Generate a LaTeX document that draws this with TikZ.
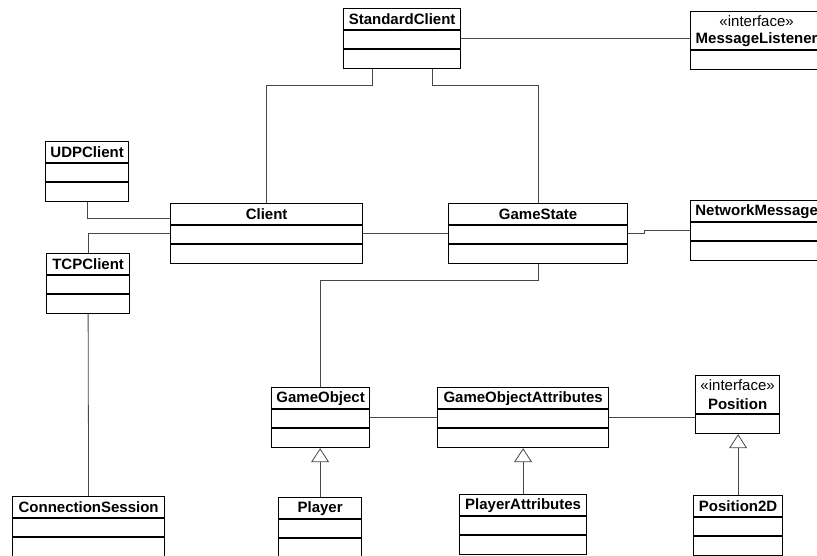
\documentclass[tikz,border=0pt]{standalone}
\usepackage{fontspec}
\setmainfont{Liberation Sans}
\usetikzlibrary{arrows.meta,positioning,calc}

\tikzset{
  classbox/.style={draw=black, line width=1.2pt, fill=white, inner sep=0pt, minimum height=60pt},
  ifacebox/.style={classbox, minimum height=58pt},
  compline/.style={draw=black, line width=1.2pt},
  classname/.style={font=\fontsize{15}{17}\selectfont\bfseries, inner sep=0pt},
  stereo/.style={font=\fontsize{15}{17}\selectfont, inner sep=0pt},
  assoc/.style={draw=black!72, line width=0.8pt},
  inherit/.style={assoc, -{Triangle[open, length=14pt, width=18pt, fill=white]}}
}

% class box: name, left, top, width, title
\newcommand{\umlclass}[5]{%
  \node[classbox, minimum width=#4pt, anchor=north west] (#1) at (#2,#3) {};
  \node[classname] (#1-name) at ([yshift=-11.5pt]#1.north) {#5};
  \draw[compline] ([yshift=-22pt]#1.north west) -- ([yshift=-22pt]#1.north east);
  \draw[compline] ([yshift=-41pt]#1.north west) -- ([yshift=-41pt]#1.north east);
}
% interface box: stereotype over the name, one empty compartment
\newcommand{\umliface}[5]{%
  \node[ifacebox, minimum width=#4pt, anchor=north west] (#1) at (#2,#3) {};
  \node[stereo] (#1-stereo) at ([yshift=-10.5pt]#1.north) {«interface»};
  \node[classname] (#1-name) at ([yshift=-29pt]#1.north) {#5};
  \draw[compline] ([yshift=-39pt]#1.north west) -- ([yshift=-39pt]#1.north east);
}

\begin{document}
\begin{tikzpicture}[x=1pt, y=-1pt]

\useasboundingbox (0,0) rectangle (817,556);
\clip (0,0) rectangle (817,556);

% ================= CLASSES =================
\umlclass{stdclient}{343}{8}{117}{StandardClient}
\umliface{msglistener}{690}{11}{132}{MessageListener}

\umlclass{udpclient}{45}{141}{83}{UDPClient}
\umlclass{client}{170}{203}{192}{Client}
\umlclass{gamestate}{448}{203}{179}{GameState}
\umlclass{netmsg}{690}{200}{132}{NetworkMessage}
\umlclass{tcpclient}{46}{253}{83}{TCPClient}

\umlclass{gameobj}{271}{387}{98}{GameObject}
\umlclass{gameobjattr}{437}{387}{171}{GameObjectAttributes}
\umliface{position}{695}{375}{84}{Position}

\umlclass{connsession}{12}{496}{152}{ConnectionSession}
\umlclass{player}{278}{497}{83}{Player}
\umlclass{playerattr}{459}{494}{127}{PlayerAttributes}
\umlclass{pos2d}{693}{495}{89}{Position2D}

% ================= ASSOCIATIONS =================
\draw[assoc] (stdclient.east) -- (stdclient.east -| msglistener.west);
\draw[assoc] ([xshift=-30pt]stdclient.south) -- ++(0,16) -| (client.north);
\draw[assoc] ([xshift=30pt]stdclient.south) -- ++(0,16) -| (gamestate.north);

\draw[assoc] (udpclient.south) |- ([yshift=15pt]client.west);
\draw[assoc] (tcpclient.north) |- (client.west);
\draw[assoc] (tcpclient.south) -- (connsession.north);

\draw[assoc] (client.east) -- (gamestate.west);
\draw[assoc] (gamestate.east) -- ++(16,0) |- (netmsg.west);
\draw[assoc] (gamestate.south) -- ++(0,16) -| (gameobj.north);

\draw[assoc] (gameobj.east) -- (gameobjattr.west);
\draw[assoc] (gameobjattr.east) -- (gameobjattr.east -| position.west);

% ================= GENERALISATIONS =================
\draw[inherit] (player.north) -- (player.north |- gameobj.south);
\draw[inherit] (playerattr.north) -- (playerattr.north |- gameobjattr.south);
\draw[inherit] (pos2d.north) -- (pos2d.north |- position.south);

\end{tikzpicture}
\end{document}
